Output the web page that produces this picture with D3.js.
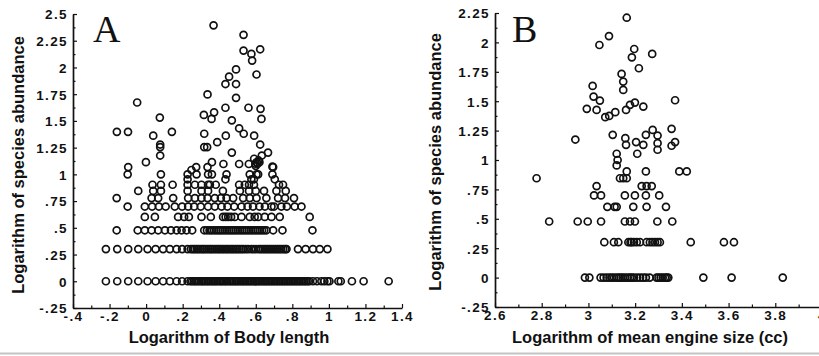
<!DOCTYPE html>
<html>
<head>
<meta charset="utf-8">
<script src="https://cdn.jsdelivr.net/npm/d3@7"></script>
<style>
  html, body { margin: 0; padding: 0; background: #fff; }
  svg { display: block; }
  .tick text { font-family: "Liberation Sans", Arial, sans-serif; font-weight: bold; font-size: 13.5px; letter-spacing: 1.4px; fill: #111; }
  .axis-title { font-family: "Liberation Sans", Arial, sans-serif; font-weight: bold; font-size: 16.5px; fill: #111; }
  .panel-letter { font-family: "Liberation Serif", "Times New Roman", serif; font-size: 38px; fill: #111; }
</style>
</head>
<body>
<svg id="chart" width="819" height="356"></svg>
<script>
// ---- Panel A: log species abundance vs log body length ----
// Points sitting on integer-abundance rows (abundance 1..10), x = log body length
const bodyRowY = [0, 0.301, 0.477, 0.602, 0.699, 0.778, 0.845, 0.903, 0.954, 1.0];
const bodyRow1 = [-0.22, -0.158, -0.098, -0.043, 0.008, 0.052, 0.093, 0.130, 0.167, 0.197, 0.227,
  0.243, 0.252, 0.263, 0.271, 0.282, 0.290, 0.301, 0.309, 0.318, 0.328, 0.337, 0.345, 0.356, 0.364,
  0.373, 0.382, 0.390, 0.401, 0.409, 0.418, 0.427, 0.436, 0.444, 0.455, 0.463, 0.472, 0.481, 0.490,
  0.498, 0.507, 0.517, 0.526, 0.534, 0.543, 0.552, 0.561, 0.570, 0.578, 0.588, 0.597, 0.605, 0.614,
  0.622, 0.632, 0.641, 0.650, 0.658, 0.667, 0.676, 0.685, 0.694, 0.703, 0.712, 0.721, 0.730, 0.739,
  0.748, 0.757, 0.766, 0.775, 0.784, 0.793, 0.802, 0.811, 0.820, 0.829, 0.838, 0.847, 0.856, 0.866,
  0.874, 0.884, 0.893, 0.913, 0.935, 0.959, 0.975, 0.992, 1.003, 1.052, 1.065, 1.126, 1.19, 1.327];
const bodyRow2 = [-0.22, -0.158, -0.098, -0.043, 0.008, 0.052, 0.093, 0.130, 0.167, 0.197, 0.227,
  0.245, 0.256, 0.266, 0.277, 0.287, 0.298, 0.309, 0.318, 0.330, 0.341, 0.352, 0.361, 0.373, 0.384,
  0.395, 0.405, 0.416, 0.426, 0.437, 0.447, 0.458, 0.469, 0.479, 0.490, 0.500, 0.511, 0.522, 0.532,
  0.545, 0.558, 0.575, 0.588, 0.601, 0.617, 0.628, 0.640, 0.651, 0.662, 0.673, 0.684, 0.695, 0.706,
  0.717, 0.728, 0.739, 0.750, 0.761, 0.768, 0.831, 0.873, 0.913, 0.950, 0.992];
const bodyRow3 = [-0.161, -0.046, -0.007, 0.030, 0.066, 0.103, 0.136, 0.167, 0.194, 0.221, 0.252,
  0.318, 0.333, 0.347, 0.359, 0.372, 0.384, 0.396, 0.407, 0.419, 0.431, 0.443, 0.455, 0.467, 0.478,
  0.490, 0.502, 0.514, 0.526, 0.538, 0.550, 0.562, 0.574, 0.586, 0.598, 0.610, 0.622, 0.634, 0.646,
  0.658, 0.695, 0.746, 0.910];
const bodyRow4 = [-0.007, 0.048, 0.175, 0.208, 0.234, 0.303, 0.354, 0.421, 0.435, 0.449, 0.465,
  0.485, 0.522, 0.567, 0.594, 0.613, 0.649, 0.686, 0.731, 0.895];
const bodyRow5 = [-0.101, -0.007, 0.033, 0.070, 0.107, 0.157, 0.197, 0.230, 0.263, 0.299, 0.339,
  0.376, 0.413, 0.445, 0.482, 0.522, 0.555, 0.585, 0.620, 0.650, 0.686, 0.700, 0.740, 0.770, 0.813, 0.850];
const bodyRow6 = [-0.161, 0.030, 0.066, 0.148, 0.230, 0.267, 0.303, 0.336, 0.376, 0.409, 0.440,
  0.476, 0.531, 0.567, 0.604, 0.658, 0.722, 0.760, 0.809];
const bodyRow7 = [-0.043, 0.039, 0.081, 0.227, 0.303, 0.339, 0.420, 0.513, 0.563, 0.600, 0.645, 0.713, 0.764];
const bodyRow8 = [0.035, 0.081, 0.145, 0.227, 0.267, 0.303, 0.339, 0.349, 0.381, 0.509, 0.540,
  0.563, 0.590, 0.727, 0.749];
const bodyRow9 = [0.227, 0.434, 0.576, 0.590, 0.704];
const bodyRow10 = [-0.101, 0.081, 0.227, 0.276, 0.339, 0.360, 0.440, 0.567, 0.604, 0.613, 0.691];
const bodyRows = [bodyRow1, bodyRow2, bodyRow3, bodyRow4, bodyRow5, bodyRow6, bodyRow7, bodyRow8, bodyRow9, bodyRow10];

// Remaining (more abundant) species, x = log body length, y = log abundance
const bodyUpperX = [0.369, 0.533, 0.533, 0.576, 0.624, 0.580, 0.604, 0.492, 0.454, 0.434, 0.492,
  0.336, 0.492, -0.049, 0.434, 0.560, 0.626, 0.631, 0.316, 0.372, 0.358, 0.075, 0.469, 0.509, 0.534,
  0.436, 0.591, 0.624, 0.389, 0.318, 0.318, 0.334, 0.469, 0.667, 0.633, 0.591, 0.605, 0.615, 0.598,
  -0.160, -0.099, 0.039, 0.141, 0.077, 0.077, 0.077, -0.001, 0.360, 0.423, 0.509, 0.691, 0.562,
  -0.098, 0.274, 0.336, 0.248, 0.695, 0.600, 0.610, 0.620];
const bodyUpperY = [2.394, 2.305, 2.158, 2.127, 2.170, 2.064, 1.934, 1.982, 1.914, 1.845, 1.845,
  1.748, 1.716, 1.672, 1.623, 1.623, 1.613, 1.519, 1.556, 1.580, 1.519, 1.531, 1.505, 1.431, 1.380,
  1.362, 1.362, 1.279, 1.301, 1.380, 1.255, 1.255, 1.204, 1.204, 1.176, 1.146, 1.114, 1.130, 1.100,
  1.398, 1.398, 1.362, 1.398, 1.279, 1.255, 1.176, 1.114, 1.114, 1.097, 1.097, 1.072, 1.097,
  1.068, 1.068, 1.068, 1.041, 1.068, 1.080, 1.100, 1.114];

const xTicksA = [-0.4, -0.2, 0, 0.2, 0.4, 0.6, 0.8, 1, 1.2, 1.4];
const yTicksA = [-0.25, 0, 0.25, 0.5, 0.75, 1, 1.25, 1.5, 1.75, 2, 2.25, 2.5];

// ---- Panel B: log species abundance vs log mean engine size ----
const engineRowY = [0, 0.301, 0.477, 0.602, 0.699, 0.778, 0.845, 0.903, 0.954, 1.0];
const engineRow1 = [2.985, 3.004, 3.052, 3.065, 3.078, 3.090, 3.100, 3.110, 3.121, 3.130, 3.138,
  3.147, 3.157, 3.168, 3.178, 3.186, 3.195, 3.208, 3.221, 3.234, 3.246, 3.262, 3.292, 3.300, 3.309,
  3.318, 3.328, 3.335, 3.342, 3.492, 3.613, 3.832];
const engineRow2 = [3.068, 3.109, 3.128, 3.171, 3.180, 3.185, 3.195, 3.207, 3.221, 3.249, 3.263,
  3.274, 3.285, 3.296, 3.306, 3.438, 3.580, 3.623];
const engineRow3 = [2.832, 2.954, 2.997, 3.054, 3.156, 3.178, 3.199, 3.295, 3.359];
const engineRow4 = [3.081, 3.112, 3.121, 3.192, 3.249, 3.332];
const engineRow5 = [3.024, 3.054, 3.156, 3.199, 3.246, 3.303];
const engineRow6 = [3.035, 3.228, 3.249, 3.271];
const engineRow7 = [2.778, 3.135, 3.149, 3.164];
const engineRow8 = [3.164, 3.246, 3.389, 3.421];
const engineRow9 = [3.121];
const engineRow10 = [3.125];
const engineRows = [engineRow1, engineRow2, engineRow3, engineRow4, engineRow5, engineRow6, engineRow7, engineRow8, engineRow9, engineRow10];

const engineUpperX = [3.164, 3.088, 3.047, 3.196, 3.186, 3.273, 3.216, 3.142, 3.149, 3.149, 3.018,
  3.022, 3.049, 2.993, 3.035, 3.072, 3.089, 3.115, 3.161, 3.178, 3.199, 3.235, 3.371, 2.944, 3.104,
  3.158, 3.161, 3.204, 3.235, 3.246, 3.275, 3.296, 3.296, 3.296, 3.356, 3.371, 3.356, 3.209, 3.121];
const engineUpperY = [2.210, 2.054, 1.978, 1.944, 1.873, 1.902, 1.780, 1.732, 1.667, 1.596, 1.630,
  1.539, 1.505, 1.435, 1.426, 1.364, 1.375, 1.407, 1.426, 1.469, 1.488, 1.454, 1.508, 1.174, 1.214,
  1.186, 1.129, 1.152, 1.129, 1.214, 1.256, 1.208, 1.143, 1.087, 1.265, 1.152, 1.121, 1.053, 1.053];

const xTicksB = [2.6, 2.8, 3, 3.2, 3.4, 3.6, 3.8, 4];
const yTicksB = [-0.25, 0, 0.25, 0.5, 0.75, 1, 1.25, 1.5, 1.75, 2, 2.25];

const yTitle = "Logarithm of species abundance";

// Assemble [x, y] pairs from row arrays and scattered arrays
function collect(rows, rowY, upX, upY) {
  const pts = [];
  rows.forEach((xs, i) => xs.forEach(x => pts.push([x, rowY[i]])));
  upX.forEach((x, i) => pts.push([x, upY[i]]));
  return pts;
}

// Tick label style: drop leading zero (".25", "-.25")
const fmt = d => {
  if (d === 0) return "0";
  let s = String(+d.toFixed(2));
  return s.replace(/^(-?)0\./, "$1.");
};

const svg = d3.select("#chart");

function panel(cfg) {
  const x = d3.scaleLinear().domain(cfg.xDomain).range(cfg.xRange);
  const y = d3.scaleLinear().domain(cfg.yDomain).range(cfg.yRange);
  const g = svg.append("g");
  const bottom = cfg.yRange[0], left = cfg.xRange[0];

  // minor ticks halfway between labelled ones
  const xMinor = [];
  for (let i = 0; i < cfg.xTicks.length - 1; i++) xMinor.push((cfg.xTicks[i] + cfg.xTicks[i + 1]) / 2);
  const yMinor = [];
  for (let i = 0; i < cfg.yTicks.length - 1; i++) yMinor.push((cfg.yTicks[i] + cfg.yTicks[i + 1]) / 2);

  g.append("g").attr("transform", `translate(0,${bottom})`)
    .call(d3.axisBottom(x).tickValues(xMinor).tickSizeInner(-2.5).tickSizeOuter(0).tickFormat(""))
    .call(a => a.select(".domain").remove());
  g.append("g").attr("transform", `translate(${left},0)`)
    .call(d3.axisLeft(y).tickValues(yMinor).tickSizeInner(-2.5).tickSizeOuter(0).tickFormat(""))
    .call(a => a.select(".domain").remove());

  const xa = g.append("g").attr("transform", `translate(0,${bottom})`)
    .call(d3.axisBottom(x).tickValues(cfg.xTicks).tickSizeInner(-4).tickSizeOuter(0).tickPadding(3).tickFormat(fmt));
  const ya = g.append("g").attr("transform", `translate(${left},0)`)
    .call(d3.axisLeft(y).tickValues(cfg.yTicks).tickSizeInner(-4).tickSizeOuter(0).tickPadding(5).tickFormat(fmt));
  [xa, ya].forEach(a => {
    a.select(".domain").attr("stroke", "#111").attr("stroke-width", 1.7);
  });
  g.selectAll(".tick line").attr("stroke", "#111").attr("stroke-width", 1.2);
  ya.selectAll(".tick text").attr("dy", "0.36em");

  // data
  g.append("g").selectAll("circle").data(cfg.points).join("circle")
    .attr("cx", d => x(d[0])).attr("cy", d => y(d[1])).attr("r", 3.5)
    .attr("fill", "none").attr("stroke", "#111").attr("stroke-width", 1.7);

  // titles
  g.append("text").attr("class", "axis-title").attr("text-anchor", "middle")
    .attr("x", cfg.xTitlePos[0]).attr("y", cfg.xTitlePos[1]).text(cfg.xTitle);
  g.append("text").attr("class", "axis-title").attr("text-anchor", "middle")
    .attr("transform", `translate(${cfg.yTitlePos[0]},${cfg.yTitlePos[1]}) rotate(-90)`).text(yTitle);
  g.append("text").attr("class", "panel-letter")
    .attr("x", cfg.letterPos[0]).attr("y", cfg.letterPos[1]).text(cfg.letter);
}

panel({
  xDomain: [-0.4, 1.4], xRange: [73, 402],
  yDomain: [-0.25, 2.5], yRange: [308, 14],
  xTicks: xTicksA, yTicks: yTicksA,
  points: collect(bodyRows, bodyRowY, bodyUpperX, bodyUpperY),
  xTitle: "Logarithm of Body length", xTitlePos: [229, 343],
  yTitlePos: [24, 165],
  letter: "A", letterPos: [93, 42]
});

panel({
  xDomain: [2.6, 4.0], xRange: [495, 822],
  yDomain: [-0.25, 2.25], yRange: [307, 13],
  xTicks: xTicksB, yTicks: yTicksB,
  points: collect(engineRows, engineRowY, engineUpperX, engineUpperY),
  xTitle: "Logarithm of mean engine size (cc)", xTitlePos: [650, 343],
  yTitlePos: [441, 162],
  letter: "B", letterPos: [512, 42]
});

// thin grey rule along the foot of the figure
svg.append("rect").attr("x", 0).attr("y", 352.5).attr("width", 819).attr("height", 2).attr("fill", "#c4c4c4");
</script>
</body>
</html>
